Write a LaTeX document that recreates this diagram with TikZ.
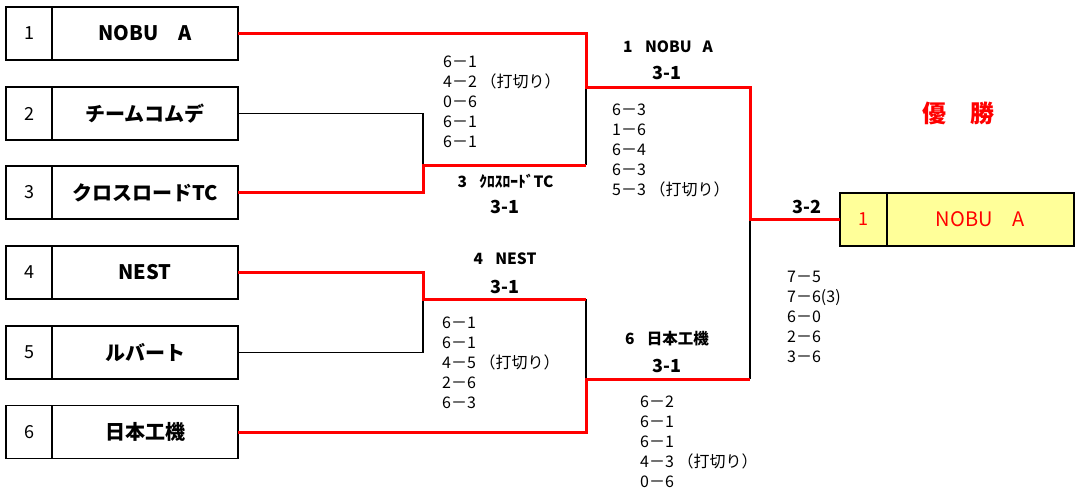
\documentclass[tikz,border=0pt]{standalone}
\usepackage{fontspec}
\setmainfont{Noto Sans CJK JP}
\usetikzlibrary{positioning}
\definecolor{champ}{HTML}{FFFF99}

\begin{document}
\begin{tikzpicture}[x=1pt,y=-1pt,
	numbox/.style={draw,line width=1.6pt,outer sep=0pt,inner sep=0pt,minimum width=46pt,minimum height=53pt,font=\fontsize{18}{18}\selectfont},
	teambox/.style={draw,line width=1.6pt,outer sep=0pt,inner sep=0pt,minimum width=186pt,minimum height=53pt,font=\bfseries\fontsize{20}{20}\selectfont},
	winline/.style={red,line width=3pt},
	loseline/.style={black,line width=1.3pt},
	scores/.style={anchor=north west,align=left,inner sep=0pt,font=\fontsize{16}{20}\selectfont},
	result/.style={inner sep=0pt,font=\bfseries\fontsize{18}{18}\selectfont},
	through/.style={inner sep=0pt,font=\bfseries\fontsize{15.5}{15.5}\selectfont}]
			%%%%% START %%%%%
			\useasboundingbox (0,0) rectangle (1077,496);
			
			% teams
			\node[numbox] (n1) at (29,33.5) {1};
			\node[teambox, right=0pt of n1] (t1) {NOBU　A};
			\node[numbox] (n2) at (29,113.5) {2};
			\node[teambox, right=0pt of n2] (t2) {チームコムデ};
			\node[numbox] (n3) at (29,192.5) {3};
			\node[teambox, right=0pt of n3] (t3) {クロスロードTC};
			\node[numbox] (n4) at (29,272.5) {4};
			\node[teambox, right=0pt of n4] (t4) {NEST};
			\node[numbox] (n5) at (29,352.5) {5};
			\node[teambox, right=0pt of n5] (t5) {ルバート};
			\node[numbox] (n6) at (29,432) {6};
			\node[teambox, right=0pt of n6] (t6) {日本工機};
			
			% champion
			\node[numbox, fill=champ, text=red, minimum width=47pt] (wn) at (863.5,219.5) {1};
			\node[teambox, fill=champ, text=red, minimum width=187pt, font=\fontsize{20}{20}\selectfont, right=0pt of wn] (wt) {NOBU　A};
			\node[red, font=\bfseries\fontsize{24}{24}\selectfont] (title) at (958,113) {優　勝};
			
			% bracket corners
			\coordinate (q1) at (423,165);
			\coordinate (p1) at (586,165);
			\coordinate (s1) at (586,87);
			\coordinate (q2) at (423,299);
			\coordinate (p2) at (586,299);
			\coordinate (s2) at (586,379);
			\coordinate (f1) at (750,87);
			\coordinate (f2) at (750,379);
			
			\draw[loseline] (t2.east) -| (q1);
			\draw[loseline] (s1) -- (p1);
			\draw[loseline] (t5.east) -| (q2);
			\draw[loseline] (p2) -- (s2);
			\draw[loseline] (wn.west -| f1) -- (f2);
			
			\draw[winline] (t3.east) -| (q1) -- (p1);
			\draw[winline] (t4.east) -| (q2) -- (p2);
			\draw[winline] (t1.east) -| (s1) -- (f1) |- (wn.west);
			\draw[winline] (t6.east) -| (s2) -- (f2);
			
			% results
			\node[through] (w1) at (505.5,181) {3\hspace{0.8em}ｸﾛｽﾛｰﾄﾞTC};
			\node[result] (r1) at (505,207) {3-1};
			\node[scores] (g1) at (443,56) {6－1\\4－2 （打切り）\\0－6\\6－1\\6－1};
			
			\node[through] (w2) at (505,259) {4\hspace{0.8em}NEST};
			\node[result] (r2) at (505,287) {3-1};
			\node[scores] (g2) at (442,317) {6－1\\6－1\\4－5 （打切り）\\2－6\\6－3};
			
			\node[through] (w3) at (668,47) {1\hspace{0.8em}NOBU\hspace{0.7em}A};
			\node[result] (r3) at (667,73) {3-1};
			\node[scores] (g3) at (612,104) {6－3\\1－6\\6－4\\6－3\\5－3 （打切り）};
			
			\node[through] (w4) at (667,339) {6\hspace{0.8em}日本工機};
			\node[result] (r4) at (667,366) {3-1};
			\node[scores] (g4) at (640,396) {6－2\\6－1\\6－1\\4－3 （打切り）\\0－6};
			
			\node[result] (r5) at (807,207) {3-2};
			\node[scores] (g5) at (787,271) {7－5\\7－6(3)\\6－0\\2－6\\3－6};
			
			%%%%% END %%%%%
\end{tikzpicture}
\end{document}
